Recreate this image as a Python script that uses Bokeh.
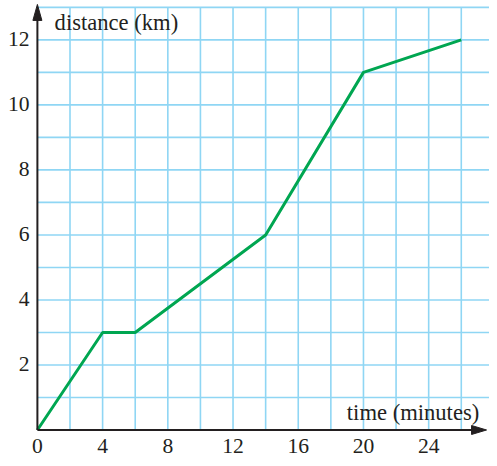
from bokeh.plotting import figure
from bokeh.models import Range1d
from bokeh.core.properties import value
from bokeh.embed import file_html
from bokeh.resources import INLINE

# data
times = [0, 4, 6, 14, 20, 26]
distance = [0, 3, 3, 6, 11, 12]
x_ticks = [0, 4, 8, 12, 16, 20, 24]
y_ticks = [2, 4, 6, 8, 10, 12]
x_grid = [2, 4, 6, 8, 10, 12, 14, 16, 18, 20, 22, 24, 26]
y_grid = [1, 2, 3, 4, 5, 6, 7, 8, 9, 10, 11, 12, 13]
x_title = "time (minutes)"
y_title = "distance (km)"

W, H = 489, 458
kx = W / 497.0
ky = H / 466.0
sx = 16.57 * kx   # px per minute
sy = 33.08 * ky   # px per km
left_px = 37.5 * kx
bottom_px = 29.0 * ky

x_start = -left_px / sx
x_end = x_start + W / sx
y_start = -bottom_px / sy
y_end = y_start + H / sy


def dx(px):
    return x_start + px * kx / sx


def dy(py):
    return y_end - py * ky / sy


p = figure(width=W, height=H, output_backend="svg", toolbar_location=None,
           x_range=Range1d(x_start, x_end), y_range=Range1d(y_start, y_end),
           x_axis_type=None, y_axis_type=None, min_border=0,
           outline_line_color=None, background_fill_color="white")

grid_color = "#8fd6f4"
p.segment(x0=x_grid, y0=[0] * len(x_grid), x1=x_grid, y1=[13] * len(x_grid),
          line_color=grid_color, line_width=1.6)
p.segment(x0=[0] * len(y_grid), y0=y_grid, x1=[x_end] * len(y_grid), y1=y_grid,
          line_color=grid_color, line_width=1.6)

p.line(times, distance, line_color="#00a651", line_width=3)

axis_color = "#231f20"
x_tip = dx(494)
y_tip = dy(4)
p.line([0, 0], [0, y_tip - 10 / sy], line_color=axis_color, line_width=2)
p.line([0, x_tip - 10 / sx], [0, 0], line_color=axis_color, line_width=2)
p.patch([0, -4.5 / sx, 4.5 / sx], [y_tip, y_tip - 16 / sy, y_tip - 16 / sy],
        fill_color=axis_color, line_color=axis_color, line_width=1)
p.patch([x_tip, x_tip - 15 / sx, x_tip - 15 / sx], [0, 4.5 / sy, -4.5 / sy],
        fill_color=axis_color, line_color=axis_color, line_width=1)

font = value("Liberation Serif")
tick_fs = "%.1fpx" % (22 * ky)
title_fs = "%.1fpx" % (23 * ky)
p.text(x=x_ticks, y=[0] * len(x_ticks), text=[str(v) for v in x_ticks],
       text_font=font, text_font_size=tick_fs, text_color=axis_color,
       text_align="center", text_baseline="middle", y_offset=16 * ky)
p.text(x=[0] * len(y_ticks), y=y_ticks, text=[str(v) for v in y_ticks],
       text_font=font, text_font_size=tick_fs, text_color=axis_color,
       text_align="right", text_baseline="middle", x_offset=-8 * kx, y_offset=-1 * ky)

p.text(x=[dx(55)], y=[dy(22)], text=[y_title],
       text_font=font, text_font_size=title_fs, text_color=axis_color,
       text_align="left", text_baseline="middle")
p.text(x=[dx(352)], y=[dy(419)], text=[x_title],
       text_font=font, text_font_size=title_fs, text_color=axis_color,
       text_align="left", text_baseline="middle")

open("out.html", "w").write(file_html(p, INLINE))
